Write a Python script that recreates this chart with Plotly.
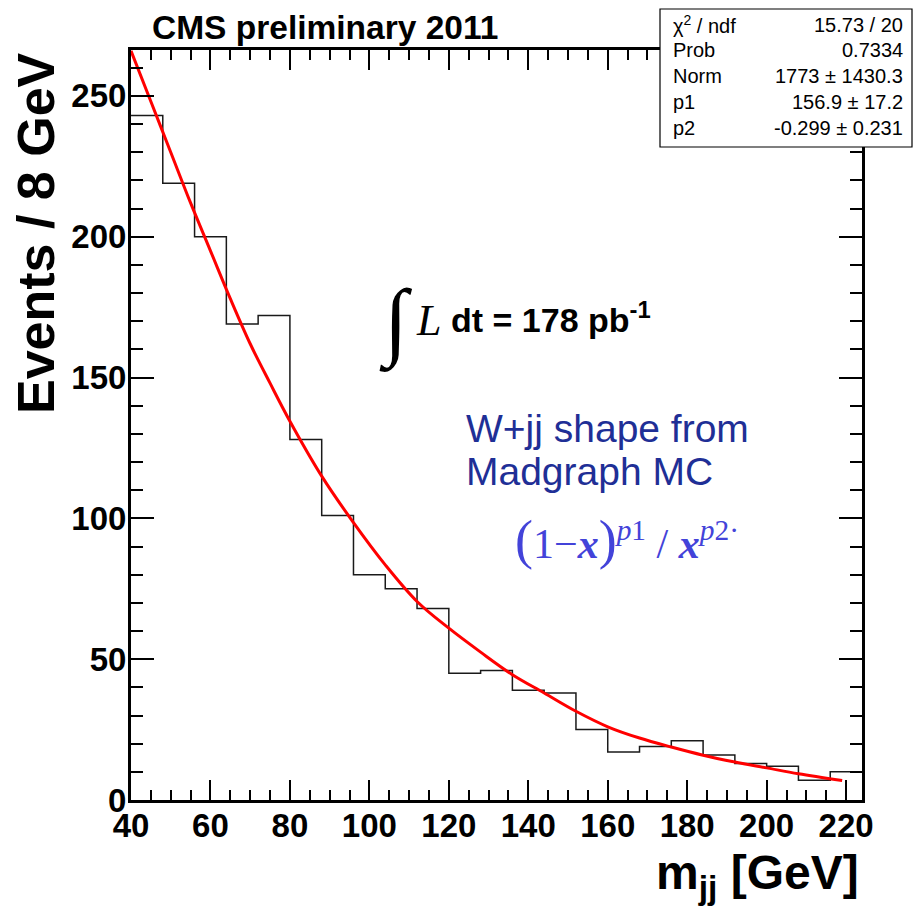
import plotly.graph_objects as go

# ---- data ----
bin_low_edges = [40, 48, 56, 64, 72, 80, 88, 96, 104, 112, 120, 128, 136, 144,
                 152, 160, 168, 176, 184, 192, 200, 208, 216]
bin_width = 8
events = [243, 219, 200, 169, 172, 128, 101, 80, 75, 68, 45, 46, 39, 38,
          25, 17, 19, 21, 16, 13, 12, 7, 10]

fit_x = [40, 45, 50, 55, 60, 65, 70, 75, 80, 88, 96, 104, 112, 120, 128, 136,
         144, 152, 160, 168, 176, 184, 192, 200, 208, 219]
fit_y = [266, 248, 230, 212, 195, 178, 162, 148, 134.5, 115, 98.5, 83.5, 70.5,
         61, 52.5, 44.5, 38, 31.5, 26, 22, 18.8, 15.9, 13.5, 11.4, 9.3, 6.9]

stats_labels = ["\u03c7<sup>2</sup> / ndf", "Prob", "Norm", "p1", "p2"]
stats_values = ["15.73 / 20", "0.7334", "1773 \u00b1 1430.3", "156.9 \u00b1 17.2",
                "-0.299 \u00b1 0.231"]

x_range = [40, 224]
y_range = [0, 266.3]

# ---- layout geometry (pixels) ----
W, H = 917, 917
L, R, T, B = 131, 862, 50, 800


def px(x):
    return (x - L) / (R - L)


def py(y):
    return (B - y) / (B - T)


# step line for histogram
hx = bin_low_edges + [bin_low_edges[-1] + bin_width]
hy = events + [events[-1]]

fig = go.Figure()
fig.add_trace(go.Scatter(x=hx, y=hy, mode="lines", line_shape="hv",
                         line=dict(color="#1a1a1a", width=1.5),
                         showlegend=False, hoverinfo="skip"))
fig.add_trace(go.Scatter(x=fit_x, y=fit_y, mode="lines", line_shape="spline",
                         line=dict(color="#ff0000", width=3),
                         showlegend=False, hoverinfo="skip"))

tickfont = dict(family="Liberation Sans, Arial, sans-serif", size=33,
                color="black", weight="bold")

fig.update_xaxes(range=x_range, tick0=40, dtick=20, ticks="inside", ticklen=20,
                 tickwidth=1.5, tickcolor="black", showline=True, linewidth=3,
                 linecolor="black", mirror="ticks", showgrid=False,
                 zeroline=False, tickfont=tickfont, ticklabelstandoff=-6,
                 minor=dict(dtick=5, ticks="inside", ticklen=10,
                            tickwidth=1.5, tickcolor="black", showgrid=False))
fig.update_yaxes(range=y_range, tick0=0, dtick=50, ticks="inside", ticklen=23,
                 tickwidth=1.5, tickcolor="black", showline=True, linewidth=3,
                 linecolor="black", mirror="ticks", showgrid=False,
                 zeroline=False, tickfont=tickfont, ticklabelstandoff=-5,
                 minor=dict(dtick=10, ticks="inside", ticklen=12,
                            tickwidth=1.5, tickcolor="black", showgrid=False))

ann = []
sans = "Liberation Sans, Arial, sans-serif"
serif = "Liberation Serif, Times New Roman, serif"

# title
ann.append(dict(x=px(325), y=py(27), text="<b>CMS preliminary 2011</b>",
                font=dict(family=sans, size=33.5, color="black"),
                xanchor="center", yanchor="middle"))
# y axis title
ann.append(dict(x=px(36), y=py(233), text="<b>Events / 8 GeV</b>", textangle=-90,
                font=dict(family=sans, size=52, color="black"),
                xanchor="center", yanchor="middle"))
# x axis title
ann.append(dict(x=px(861), y=py(876), text="<b>m<sub>jj</sub> [GeV]</b>",
                font=dict(family=sans, size=48, color="black"),
                xanchor="right", yanchor="middle"))
# luminosity
ann.append(dict(x=px(396), y=py(322), text="\u222b",
                font=dict(family=serif, size=86, color="black"),
                xanchor="center", yanchor="middle"))
ann.append(dict(x=px(428), y=py(320), text="<i>L</i>",
                font=dict(family=serif, size=44, color="black"),
                xanchor="center", yanchor="middle"))
ann.append(dict(x=px(449), y=py(318), text="<b>dt = 178 pb<sup>-1</sup></b>",
                font=dict(family=sans, size=34, color="black"),
                xanchor="left", yanchor="middle"))
# W+jj text
ann.append(dict(x=px(464), y=py(428), text="W+jj shape from",
                font=dict(family=sans, size=39, color="#1f2f96"),
                xanchor="left", yanchor="middle"))
ann.append(dict(x=px(464), y=py(471), text="Madgraph MC",
                font=dict(family=sans, size=39, color="#1f2f96"),
                xanchor="left", yanchor="middle"))
ann.append(dict(x=px(513), y=py(540),
                text="<span style=\"font-size:54px\">(</span>1\u2212<b><i>x</i></b>"
                     "<span style=\"font-size:54px\">)</span>"
                     "<sup><i>p</i>1</sup> / <b><i>x</i></b><sup><i>p</i>2\u00b7</sup>",
                font=dict(family=serif, size=42, color="#4343d9"),
                xanchor="left", yanchor="middle"))

# stats box texts
row_y = [25, 50, 76, 102, 128]
for lab, val, yy in zip(stats_labels, stats_values, row_y):
    ann.append(dict(x=px(671), y=py(yy), text=lab,
                    font=dict(family=sans, size=20, color="black"),
                    xanchor="left", yanchor="middle"))
    ann.append(dict(x=px(905), y=py(yy), text=val,
                    font=dict(family=sans, size=20, color="black"),
                    xanchor="right", yanchor="middle"))

for a in ann:
    a.update(xref="paper", yref="paper", showarrow=False)

shapes = [dict(type="rect", xref="paper", yref="paper",
               x0=px(660), x1=px(912), y0=py(147), y1=py(9),
               fillcolor="white", line=dict(color="black", width=1.2),
               layer="above")]

fig.update_layout(width=W, height=H, autosize=False,
                  margin=dict(l=L, r=W - R, t=T, b=H - B, pad=0),
                  paper_bgcolor="white", plot_bgcolor="white",
                  annotations=ann, shapes=shapes, showlegend=False)

fig.write_html("out.html", config={"displayModeBar": False},
               post_script="document.body.style.margin='0';"
                           "document.body.style.padding='0';")
